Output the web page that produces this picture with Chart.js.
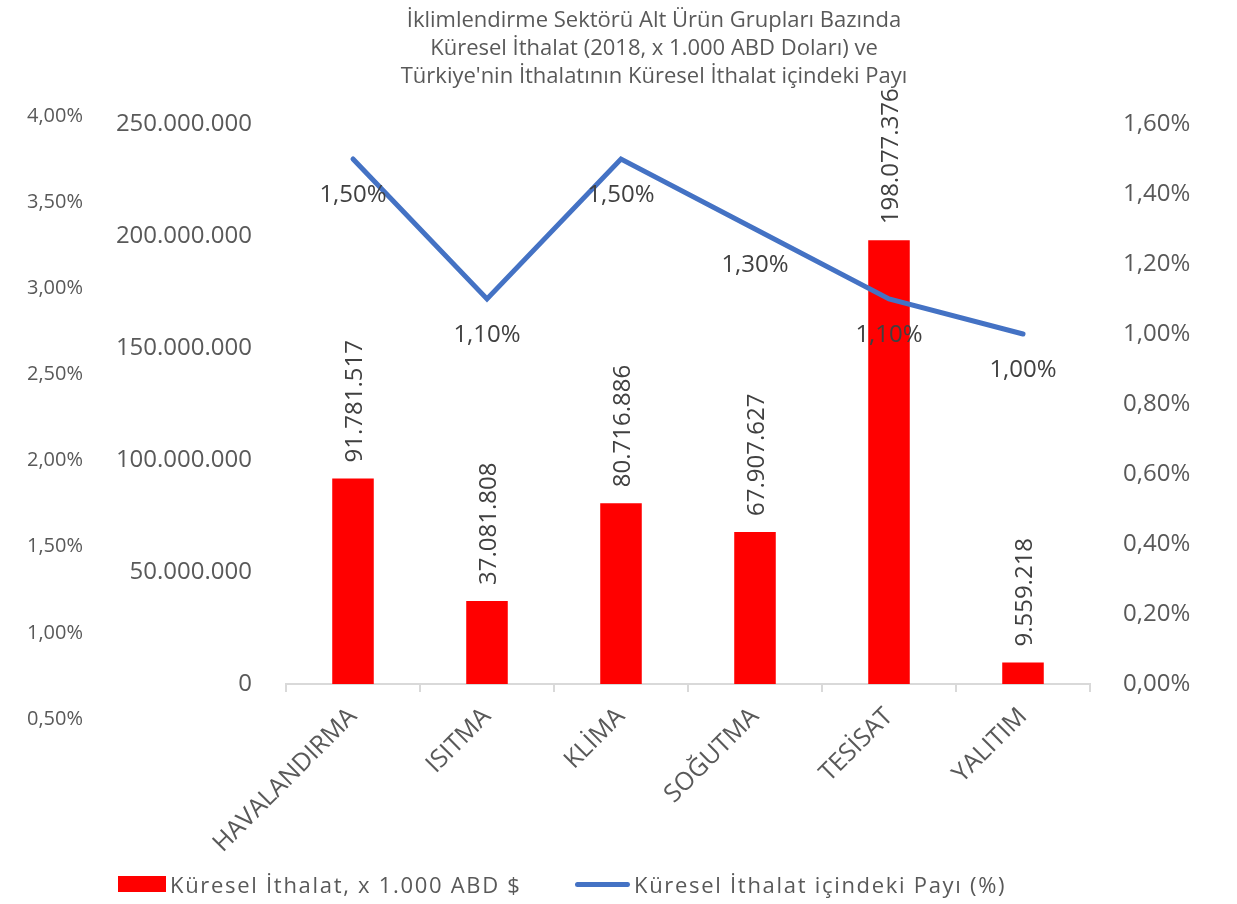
<!DOCTYPE html>
<html lang="tr">
<head>
<meta charset="utf-8">
<title>İklimlendirme Sektörü</title>
<script src="https://cdn.jsdelivr.net/npm/chart.js@4.4.1/dist/chart.umd.min.js"></script>
<style>
    html, body { margin: 0; padding: 0; background: #fff; }
    #wrap { position: relative; width: 1237px; height: 904px; overflow: hidden; font-family: "Open Sans", sans-serif; color: #595959; }
    #mainChart { position: absolute; left: 0; top: 0; }
    #sideChart { position: absolute; left: 0; top: 0; }
    #title { position: absolute; left: 0; top: 4px; width: 1308px; text-align: center; font-size: 22px; line-height: 28px; }
    .leg-text { position: absolute; top: 869px; font-size: 22px; line-height: 30px; white-space: nowrap; letter-spacing: 1.7px; }
    .leg-box { position: absolute; background: #ff0000; }
</style>
</head>
<body>
<div id="wrap">
    <canvas id="sideChart" width="110" height="904"></canvas>
    <canvas id="mainChart" width="1237" height="904"></canvas>
    <div id="title">İklimlendirme Sektörü Alt Ürün Grupları Bazında<br>Küresel İthalat (2018, x 1.000 ABD Doları) ve<br>Türkiye'nin İthalatının Küresel İthalat içindeki Payı</div>
    <div class="leg-box" style="left:118px; top:876px; width:48px; height:16px;"></div>
    <div class="leg-text" style="left:170px;">Küresel İthalat, x 1.000 ABD $</div>
    <div class="leg-box" style="left:575px; top:882px; width:55px; height:5px; background:#4472c4; border-radius:3px;"></div>
    <div class="leg-text" style="left:634px;">Küresel İthalat içindeki Payı (%)</div>
</div>
<script>
// chart values
const categories = ['HAVALANDIRMA', 'ISITMA', 'KLİMA', 'SOĞUTMA', 'TESİSAT', 'YALITIM'];
const importValues = [91781517, 37081808, 80716886, 67907627, 198077376, 9559218];
const shareValues = [1.50, 1.10, 1.50, 1.30, 1.10, 1.00];

const leftAxis = { min: 0, max: 250000000, step: 50000000 };
const rightAxis = { min: 0, max: 1.6, step: 0.2 };
const sideAxis = { min: 0.5, max: 4.0, step: 0.5 };

const FONT = '"Open Sans", sans-serif';
const TEXT = '#595959';
const LABEL = '#404040';

function fmtNum(v) {
    return Math.round(v).toString().replace(/\B(?=(\d{3})+(?!\d))/g, '.');
}
function fmtPct(v) {
    return v.toFixed(2).replace('.', ',') + '%';
}

// value labels: rotated above bars, under line points
const valueLabels = {
    id: 'valueLabels',
    afterDatasetsDraw(chart) {
        const ctx = chart.ctx;
        ctx.save();
        ctx.font = '24px ' + FONT;
        ctx.fillStyle = LABEL;

        chart.getDatasetMeta(0).data.forEach((bar, i) => {
            ctx.save();
            ctx.translate(bar.x + 2, bar.y - 16);
            ctx.rotate(-Math.PI / 2);
            ctx.textAlign = 'left';
            ctx.textBaseline = 'middle';
            ctx.fillText(fmtNum(importValues[i]), 0, 0);
            ctx.restore();
        });

        ctx.textAlign = 'center';
        ctx.textBaseline = 'middle';
        chart.getDatasetMeta(1).data.forEach((pt, i) => {
            ctx.fillText(fmtPct(shareValues[i]), pt.x, pt.y + 36);
        });
        ctx.restore();
    }
};

Chart.defaults.font.family = FONT;
Chart.defaults.color = TEXT;

new Chart(document.getElementById('mainChart').getContext('2d'), {
    type: 'bar',
    data: {
        labels: categories,
        datasets: [{
            type: 'bar',
            label: 'Küresel İthalat, x 1.000 ABD $',
            data: importValues,
            backgroundColor: '#ff0000',
            categoryPercentage: 1,
            barPercentage: 0.31,
            yAxisID: 'y',
            order: 1
        }, {
            type: 'line',
            label: 'Küresel İthalat içindeki Payı (%)',
            data: shareValues,
            borderColor: '#4472c4',
            borderWidth: 5,
            pointRadius: 0,
            tension: 0,
            borderCapStyle: 'round',
            yAxisID: 'y1',
            order: 0
        }]
    },
    options: {
        responsive: false,
        devicePixelRatio: 1,
        animation: false,
        layout: { padding: { top: 124, bottom: 0, left: 0, right: 0 } },
        plugins: {
            legend: { display: false },
            title: { display: false },
            tooltip: { enabled: false }
        },
        scales: {
            x: {
                grid: { display: true, drawOnChartArea: false, drawTicks: true, tickLength: 8, color: '#d9d9d9', lineWidth: 2 },
                border: { display: true, color: '#d9d9d9', width: 2 },
                ticks: { font: { size: 25 }, color: TEXT, maxRotation: 45, minRotation: 45, padding: 10 },
                afterFit(scale) { scale.height = 220; }
            },
            y: {
                position: 'left',
                min: leftAxis.min,
                max: leftAxis.max,
                grid: { display: false },
                border: { display: false },
                ticks: { stepSize: leftAxis.step, font: { size: 24 }, color: TEXT, padding: 26, callback: v => fmtNum(v) },
                afterFit(scale) { scale.width = 286; }
            },
            y1: {
                position: 'right',
                min: rightAxis.min,
                max: rightAxis.max,
                grid: { display: false },
                border: { display: false },
                ticks: { stepSize: rightAxis.step, font: { size: 24 }, color: TEXT, padding: 25, callback: v => fmtPct(v) },
                afterFit(scale) { scale.width = 147; }
            }
        }
    },
    plugins: [valueLabels]
});

// stray percentage axis on the far left
new Chart(document.getElementById('sideChart').getContext('2d'), {
    type: 'line',
    data: { labels: [''], datasets: [{ data: [], yAxisID: 'y' }] },
    options: {
        responsive: false,
        devicePixelRatio: 1,
        animation: false,
        layout: { padding: { top: 116, bottom: 904 - 719, left: 0, right: 0 } },
        plugins: { legend: { display: false }, tooltip: { enabled: false } },
        scales: {
            x: { display: false },
            y: {
                min: sideAxis.min,
                max: sideAxis.max,
                grid: { display: false },
                border: { display: false },
                ticks: { stepSize: sideAxis.step, font: { size: 20 }, color: TEXT, padding: 7, callback: v => fmtPct(v) },
                afterFit(scale) { scale.width = 98; }
            }
        }
    }
});
</script>
</body>
</html>
